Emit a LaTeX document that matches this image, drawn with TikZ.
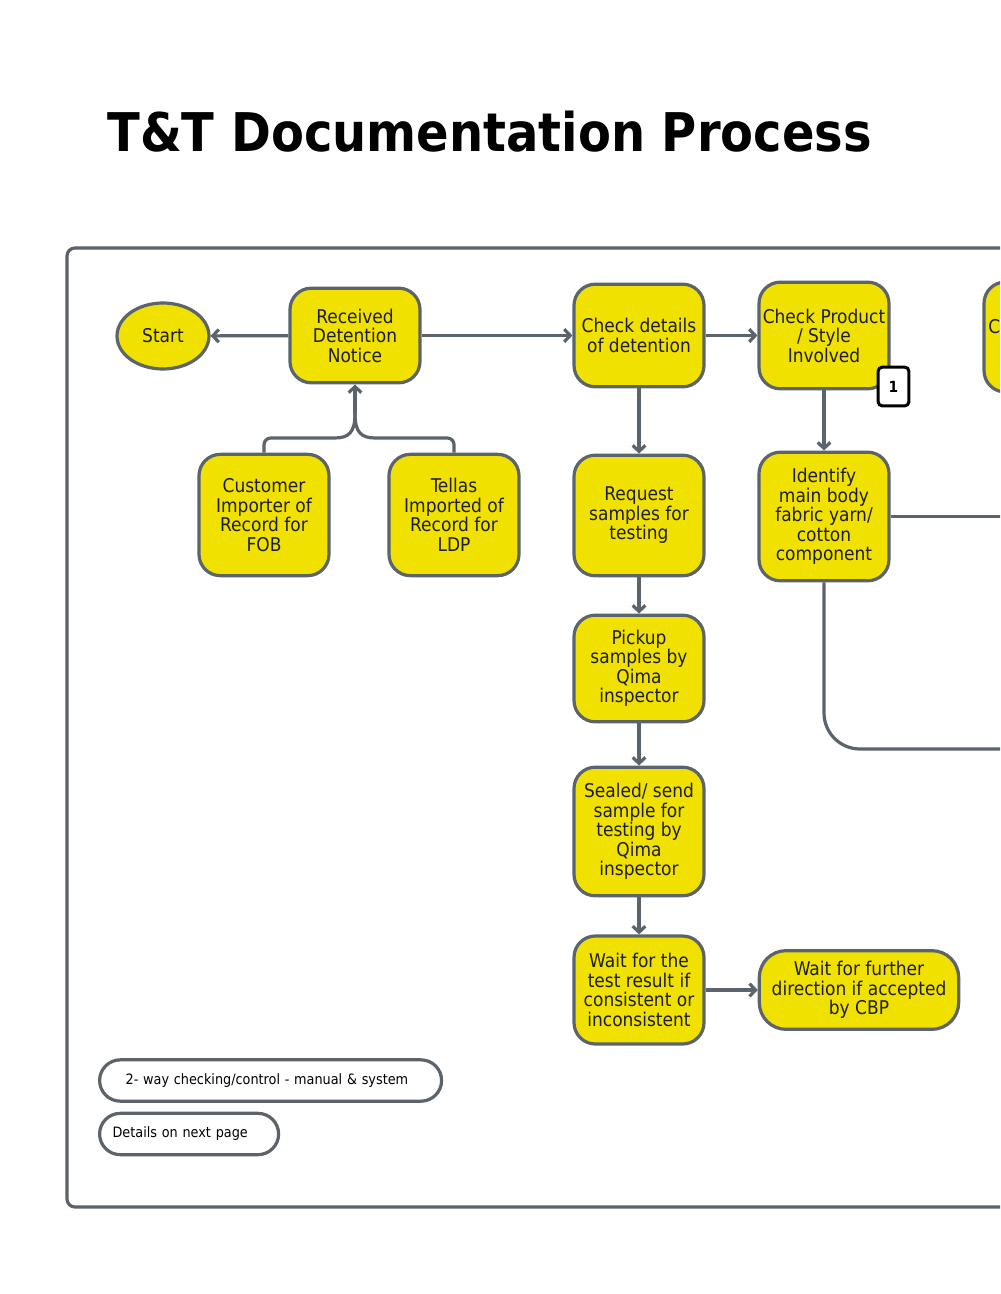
\documentclass[tikz,border=0pt]{standalone}
\usepackage{fontspec}
\setmainfont{DejaVu Sans Condensed}
\usetikzlibrary{arrows.meta,shapes.geometric,positioning}
\definecolor{TTYellow}{HTML}{F0E100}
\definecolor{TTLine}{HTML}{5B636B}
\definecolor{TTText}{HTML}{1E1E1E}
\begin{document}
\begin{tikzpicture}[x=0.75pt,y=-0.75pt,
    ttbox/.style={draw=TTLine,fill=TTYellow,line width=2.4pt,
      rounded corners=16pt,align=center,text=TTText,inner sep=0pt,
      font=\fontsize{14.2}{14.6}\selectfont,minimum width=97.5pt},
    ttstart/.style={ttbox,ellipse,minimum width=69pt,minimum height=49.5pt},
    ttlegend/.style={draw=TTLine,fill=white,line width=2.4pt,
      rounded corners=15.5pt,align=left,text=black,inner ysep=0pt,
      minimum height=31pt,font=\fontsize{10.7}{12.8}\selectfont},
    ttbadge/.style={draw=black,fill=white,line width=2.25pt,rounded corners=3pt,
      minimum width=23pt,minimum height=29pt,inner sep=0pt,
      font=\bfseries\fontsize{11.5}{13}\selectfont},
    ttlink/.style={draw=TTLine,line width=2.4pt},
    ttflow/.style={ttlink,-{Straight Barb[length=4.5pt,width=9.5pt]}}]
  \useasboundingbox (0,0) rectangle (1000,1294);
  \clip (0,0) rectangle (1000,1294);

  % title and frame
  \node[anchor=base west,inner sep=0pt,
    font=\bfseries\fontsize{40}{48}\selectfont] (title) at (107,152)
    {T\&T Documentation Process};
  \draw[TTLine,line width=2.4pt,rounded corners=6pt]
    (67,248) rectangle (1080,1207);

  % first column
  \node[ttstart] (start) at (163,336) {Start};
  \node[ttbox,minimum height=71pt] (recv) at (355,335.5)
    {Received\\Detention\\Notice};
  \node[ttbox,minimum height=91pt] (cust) at (264,515)
    {Customer\\Importer of\\Record for\\FOB};
  \node[ttbox,minimum height=91pt] (tell) at (454,515)
    {Tellas\\Imported of\\Record for\\LDP};

  % testing column
  \node[ttbox,minimum height=77pt] (chk) at (639,335.5)
    {Check details\\of detention};
  \node[ttbox,minimum height=90.5pt] (req) at (639,515.5)
    {Request\\samples for\\testing};
  \node[ttbox,minimum height=80pt] (pick) at (639,668.5)
    {Pickup\\samples by\\Qima\\inspector};
  \node[ttbox,minimum height=96.5pt] (seal) at (639,831.5)
    {Sealed/ send\\sample for\\testing by\\Qima\\inspector};
  \node[ttbox,minimum height=81pt] (waitres) at (639,990)
    {Wait for the\\test result if\\consistent or\\inconsistent};
  \node[ttbox,minimum width=149.5pt,minimum height=59pt,rounded corners=20pt]
    (waitdir) at (859,990)
    {Wait for further\\direction if accepted\\by CBP};

  % product column
  \node[ttbox,minimum height=80pt] (prod) at (824,335.5)
    {Check Product\\/ Style\\Involved};
  \node[ttbadge] (note) at (893.5,386.5) {1};
  \node[ttbox,minimum height=96.5pt] (ident) at (824,516.5)
    {Identify\\main body\\fabric yarn/\\cotton\\component};
  \node[ttbox,minimum height=82.5pt] (next) at (1049,337) {};
  \node[anchor=west,inner sep=0pt,text=TTText,
    font=\fontsize{14.2}{14.6}\selectfont] (nextc) at (988,327) {C};

  % legend
  \node[ttlegend,anchor=west,inner xsep=19.5pt,text width=217.5pt]
    (leg) at (98,1080.5) {2- way checking/control - manual \& system};
  \node[ttlegend,anchor=west,inner xsep=9.75pt,text width=114.75pt]
    (legnext) at (98,1134) {Details on next page};

  % connectors
  \coordinate (join) at (355,414);
  \coordinate (offA) at (1040,516.5);
  \coordinate (offB) at (1040,749);
  \draw[ttflow] (recv) -- (start);
  \draw[ttflow] (recv) -- (chk);
  \draw[ttflow] (chk) -- (prod);
  \draw[ttflow] (chk) -- (req);
  \draw[ttflow] (req) -- (pick);
  \draw[ttflow] (pick) -- (seal);
  \draw[ttflow] (seal) -- (waitres);
  \draw[ttflow] (waitres) -- (waitdir);
  \draw[ttflow] (prod) -- (ident);
  \draw[ttlink] (cust.north) [rounded corners=5pt] |- (328,438)
    [sharp corners] .. controls (349,438) and (355,432) .. (join);
  \draw[ttlink] (tell.north) [rounded corners=5pt] |- (382,438)
    [sharp corners] .. controls (361,438) and (355,432) .. (join);
  \draw[ttflow] (join) -- (recv);
  \draw[ttlink] (ident) -- (offA);
  \draw[ttlink,rounded corners=27pt] (ident.south) |- (offB);
\end{tikzpicture}
\end{document}
